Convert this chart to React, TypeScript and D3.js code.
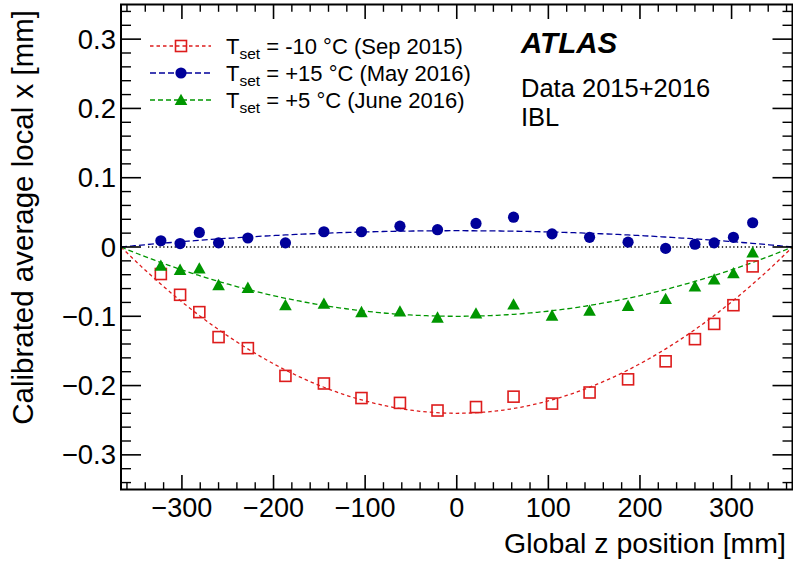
import React from "react";
import * as d3 from "d3";

// z positions of the IBL modules (mm)
const zPositions = [-323, -302, -281, -260, -228, -187, -145, -104, -62, -21, 21, 62, 104, 145, 187, 228, 260, 281, 302, 323];

// Calibrated average local x [mm]
const sep2015 = [-0.039, -0.069, -0.094, -0.130, -0.146, -0.186, -0.197, -0.218, -0.225, -0.236, -0.231, -0.216, -0.226, -0.210, -0.191, -0.165, -0.133, -0.111, -0.084, -0.028];
const may2016 = [0.009, 0.005, 0.021, 0.006, 0.013, 0.006, 0.022, 0.022, 0.030, 0.025, 0.034, 0.043, 0.019, 0.014, 0.007, -0.002, 0.004, 0.006, 0.014, 0.035];
const june2016 = [-0.027, -0.033, -0.031, -0.055, -0.059, -0.084, -0.082, -0.094, -0.093, -0.102, -0.096, -0.083, -0.099, -0.092, -0.085, -0.075, -0.057, -0.047, -0.038, -0.008];

// parabolic fit: value at the stave centre, vanishing at the stave ends
const fitCentre = [-0.240, 0.0235, -0.100];
const staveHalfLength = 366.5;

const seriesLabels = ["-10 °C (Sep 2015)", "+15 °C (May 2016)", "+5 °C (June 2016)"];
const xTicks = [-300, -200, -100, 0, 100, 200, 300];
const yTicks = [-0.3, -0.2, -0.1, 0, 0.1, 0.2, 0.3];

const W = 793, H = 579;
const L = 121, R = 792.5, T = 4.5, B = 489.5;
const FONT = "'Liberation Sans', Arial, Helvetica, sans-serif";

const colors = ["#dd1c1c", "#00009a", "#009600"];
const dashes = ["3.5,3", "6,3", "5,3"];

function Marker({ kind, x, y, color }: { kind: number; x: number; y: number; color: string }) {
  if (kind === 0) return <rect x={x - 5.5} y={y - 5.5} width={11} height={11} fill="none" stroke={color} strokeWidth={1.6} />;
  if (kind === 1) return <circle cx={x} cy={y} r={5.6} fill={color} />;
  const s = 6.3;
  return <path d={`M${x},${y - s}L${x + s},${y + s * 0.8}L${x - s},${y + s * 0.8}Z`} fill={color} />;
}

export default function App() {
  const x = d3.scaleLinear().domain([-staveHalfLength, staveHalfLength]).range([L, R]);
  const y = d3.scaleLinear().domain([-0.35, 0.35]).range([B, T]);
  const series = [sep2015, may2016, june2016];

  const zs = d3.range(-staveHalfLength, staveHalfLength + 0.01, staveHalfLength / 100);
  const line = d3.line<number[]>().x((d) => x(d[0])).y((d) => y(d[1]));

  const xMinor = d3.range(-360, 361, 20).filter((v) => v % 100 !== 0);
  const yMinor = d3.range(-34, 35, 2).map((v) => v / 100).filter((v) => Math.abs(Math.round(v * 100)) % 10 !== 0);
  const fmtY = (v: number) => (Math.abs(v) < 1e-9 ? "0" : (v < 0 ? "\u2212" : "") + Math.abs(v).toFixed(1));
  const fmtX = (v: number) => (v < 0 ? "\u2212" : "") + Math.abs(v);

  return (
    <svg width={W} height={H} style={{ position: "absolute", left: 0, top: 0, background: "#fff" }} fontFamily={FONT}>
      <rect width={W} height={H} fill="#fff" />
      {/* zero line */}
      <line x1={x(-337)} x2={x(337)} y1={y(0)} y2={y(0)} stroke="#000" strokeWidth={1.3} strokeDasharray="1.3,2.5" />
      {/* fits */}
      {fitCentre.map((c, i) => (
        <path key={"f" + i} d={line(zs.map((z) => [z, c * (1 - (z * z) / (staveHalfLength * staveHalfLength))]))!} fill="none" stroke={colors[i]} strokeWidth={1.3} strokeDasharray={dashes[i]} />
      ))}
      {/* data */}
      {series.map((s, i) => (
        <g key={"s" + i}>
          {s.map((v, j) => (
            <Marker key={j} kind={i} x={x(zPositions[j])} y={y(v)} color={colors[i]} />
          ))}
        </g>
      ))}
      {/* frame */}
      <rect x={L} y={T} width={R - L} height={B - T} fill="none" stroke="#000" strokeWidth={2} />
      {/* x ticks */}
      {xTicks.map((t) => (
        <g key={"xt" + t}>
          <line x1={x(t)} x2={x(t)} y1={B} y2={B - 14.5} stroke="#000" strokeWidth={1.6} />
          <line x1={x(t)} x2={x(t)} y1={T} y2={T + 14.5} stroke="#000" strokeWidth={1.6} />
          <text x={x(t)} y={517} textAnchor="middle" fontSize={27}>{fmtX(t)}</text>
        </g>
      ))}
      {xMinor.map((t) => (
        <g key={"xm" + t}>
          <line x1={x(t)} x2={x(t)} y1={B} y2={B - 7.3} stroke="#000" strokeWidth={1.4} />
          <line x1={x(t)} x2={x(t)} y1={T} y2={T + 7.3} stroke="#000" strokeWidth={1.4} />
        </g>
      ))}
      {/* y ticks */}
      {yTicks.map((t) => (
        <g key={"yt" + t}>
          <line x1={L} x2={L + 20} y1={y(t)} y2={y(t)} stroke="#000" strokeWidth={1.6} />
          <line x1={R} x2={R - 20} y1={y(t)} y2={y(t)} stroke="#000" strokeWidth={1.6} />
          <text x={116} y={y(t) + 9.5} textAnchor="end" fontSize={27.5}>{fmtY(t)}</text>
        </g>
      ))}
      {yMinor.map((t) => (
        <g key={"ym" + t}>
          <line x1={L} x2={L + 10} y1={y(t)} y2={y(t)} stroke="#000" strokeWidth={1.4} />
          <line x1={R} x2={R - 10} y1={y(t)} y2={y(t)} stroke="#000" strokeWidth={1.4} />
        </g>
      ))}
      {/* axis titles */}
      <text x={786} y={553} textAnchor="end" fontSize={28.5}>Global z position [mm]</text>
      <text transform="translate(33,10) rotate(-90)" textAnchor="end" fontSize={29.5}>Calibrated average local x [mm]</text>
      {/* legend */}
      {seriesLabels.map((lab, i) => {
        const ly = 46 + i * 27;
        return (
          <g key={"lg" + i}>
            <line x1={150} x2={211} y1={ly} y2={ly} stroke={colors[i]} strokeWidth={1.3} strokeDasharray={dashes[i]} />
            <Marker kind={i} x={181} y={ly} color={colors[i]} />
            <text x={226} y={ly + 8} fontSize={22}>
              T<tspan fontSize={15.5} dy={5}>set</tspan>
              <tspan dy={-5}>{" = " + lab}</tspan>
            </text>
          </g>
        );
      })}
      {/* labels */}
      <text x={521} y={53} fontSize={29.5} fontWeight="bold" fontStyle="italic">ATLAS</text>
      <text x={521} y={97} fontSize={25.5}>Data 2015+2016</text>
      <text x={521} y={126} fontSize={25.5}>IBL</text>
    </svg>
  );
}
